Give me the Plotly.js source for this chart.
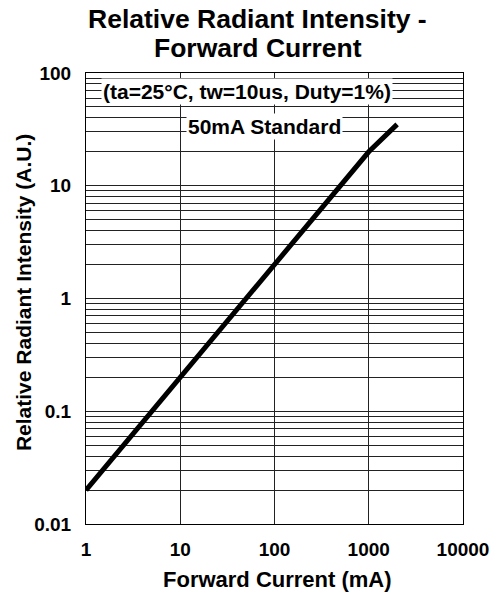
<!DOCTYPE html>
<html>
<head>
<meta charset="utf-8">
<script src="https://cdn.plot.ly/plotly-3.0.1.min.js"></script>
<style>html,body{margin:0;padding:0;background:#fff;}#chart{width:497px;height:595px;}</style>
</head>
<body>
<div id="chart"></div>
<script>
const currentMA = [1, 10, 100, 1000, 2000];
const intensity = [0.02, 0.2, 2, 20, 35];
const xTickVals = [1, 10, 100, 1000, 10000];
const xTickText = ["1", "10", "100", "1000", "10000"];
const yTickVals = [0.01, 0.1, 1, 10, 100];
const yTickText = ["0.01", "0.1", "1", "10", "100"];
const titleLine1 = "Relative Radiant Intensity -";
const titleLine2 = "Forward Current";
const xTitle = "Forward Current (mA)";
const yTitle = "Relative Radiant Intensity (A.U.)";
const noteText = "(ta=25°C, tw=10us, Duty=1%)";
const stdText = "50mA Standard";

const F = "Liberation Sans, Arial, sans-serif";
const traces = [{
  x: currentMA, y: intensity, type: "scatter", mode: "lines",
  line: {color: "#000", width: 5}, hoverinfo: "skip", showlegend: false
}];
const layout = {
  width: 497, height: 595,
  margin: {l: 86, r: 34, t: 73, b: 71},
  paper_bgcolor: "#fff", plot_bgcolor: "#fff",
  font: {family: F, color: "#000"},
  showlegend: false,
  xaxis: {
    type: "log", range: [0, 4], tickvals: xTickVals, ticktext: xTickText,
    showgrid: true, gridcolor: "#222", gridwidth: 1,
    minor: {showgrid: false},
    showline: true, linecolor: "#000", linewidth: 1, mirror: true,
    ticks: "", zeroline: false, ticklabelstandoff: 8,
    tickfont: {family: F, size: 19, color: "#000", weight: "bold"},
    title: {text: ""}
  },
  yaxis: {
    type: "log", range: [-2, 2], tickvals: yTickVals, ticktext: yTickText,
    showgrid: true, gridcolor: "#222", gridwidth: 1,
    minor: {showgrid: true, gridcolor: "#222", gridwidth: 1, dtick: "D1", ticks: ""},
    showline: true, linecolor: "#000", linewidth: 1, mirror: true,
    ticks: "", zeroline: false, ticklabelstandoff: 10,
    tickfont: {family: F, size: 19, color: "#000", weight: "bold"},
    title: {text: ""}
  },
  annotations: [
    {text: "<b>" + titleLine1 + "</b>", xref: "paper", yref: "paper", x: 0.456, y: 1, xanchor: "center", yanchor: "middle", yshift: 54.5, showarrow: false, font: {family: F, size: 26.5, color: "#000"}},
    {text: "<b>" + titleLine2 + "</b>", xref: "paper", yref: "paper", x: 0.456, y: 1, xanchor: "center", yanchor: "middle", yshift: 25.5, showarrow: false, font: {family: F, size: 26.5, color: "#000"}},
    {text: "<b>" + xTitle + "</b>", xref: "paper", yref: "paper", x: 0.509, y: 0, xanchor: "center", yanchor: "middle", yshift: -55, showarrow: false, font: {family: F, size: 22, color: "#000"}},
    {text: "<b>" + yTitle + "</b>", xref: "paper", yref: "paper", x: 0, y: 0.512, xanchor: "center", yanchor: "middle", xshift: -63, textangle: -90, showarrow: false, font: {family: F, size: 21, color: "#000"}},
    {text: "<b>" + noteText + "</b>", xref: "x", yref: "y", x: Math.log10(50.7), y: Math.log10(69), xanchor: "center", yanchor: "middle", showarrow: false, bgcolor: "#fff", borderpad: 1, font: {family: F, size: 21, color: "#000"}},
    {text: "<b>" + stdText + "</b>", xref: "x", yref: "y", x: Math.log10(79), y: Math.log10(33.7), xanchor: "center", yanchor: "middle", showarrow: false, bgcolor: "#fff", borderpad: 1, font: {family: F, size: 21, color: "#000"}}
  ]
};
Plotly.newPlot("chart", traces, layout, {displayModeBar: false, staticPlot: true});
</script>
</body>
</html>
